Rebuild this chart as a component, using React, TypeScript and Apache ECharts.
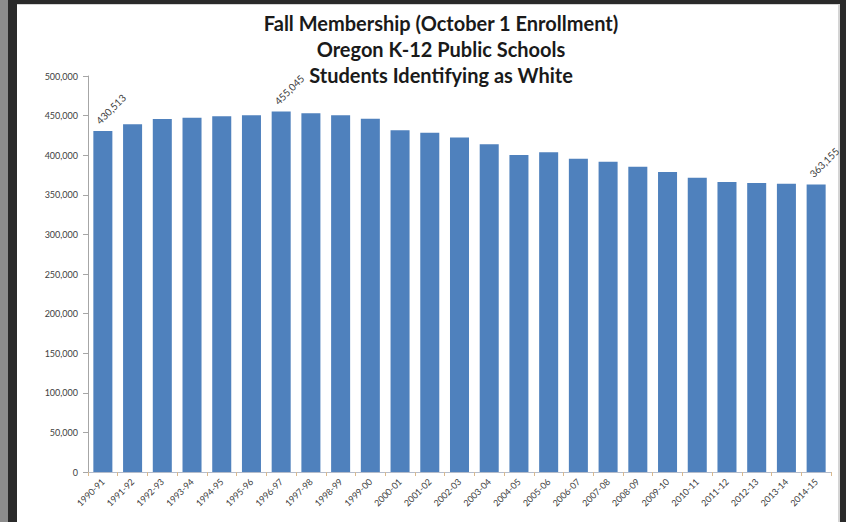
import React, { useEffect, useRef } from "react";
import * as echarts from "echarts";

const titleLines = [
  "Fall Membership (October 1 Enrollment)",
  "Oregon K-12 Public Schools",
  "Students Identifying as White",
];

const categories = [
  "1990-91", "1991-92", "1992-93", "1993-94", "1994-95", "1995-96", "1996-97",
  "1997-98", "1998-99", "1999-00", "2000-01", "2001-02", "2002-03", "2003-04",
  "2004-05", "2005-06", "2006-07", "2007-08", "2008-09", "2009-10", "2010-11",
  "2011-12", "2012-13", "2013-14", "2014-15",
];

const enrollment = [
  430513, 439000, 445700, 447300, 449100, 450300, 455045,
  452900, 450300, 446100, 431400, 428400, 422300, 413800,
  400300, 403600, 395600, 391800, 385500, 378800, 371600,
  366200, 364900, 364000, 363155,
];

const labeledIndices = [0, 6, 24];

const yMin = 0;
const yMax = 500000;
const yInterval = 50000;

const fmt = (v: number) => v.toLocaleString("en-US");

export default function App() {
  const ref = useRef<HTMLDivElement>(null);

  useEffect(() => {
    if (!ref.current) return;
    const chart = echarts.init(ref.current, null, { renderer: "svg" });
    const font = "Lato, 'Open Sans', sans-serif";
    chart.setOption({
      animation: false,
      backgroundColor: "transparent",
      textStyle: { fontFamily: font },
      graphic: titleLines.map((t, i) => ({
        type: "text",
        x: 441,
        y: 23 + i * 26,
        style: {
          text: t,
          fill: "#1a1a1a",
          font: `bold 20px ${font}`,
          textAlign: "center",
          textVerticalAlign: "middle",
        },
      })),
      grid: { left: 88, right: 15, top: 76, bottom: 50, containLabel: false },
      xAxis: {
        type: "category",
        data: categories,
        boundaryGap: true,
        axisLine: { show: true, lineStyle: { color: "#b4bccb", width: 1 } },
        axisTick: { show: true, length: 4, lineStyle: { color: "#d9b98e" } },
        axisLabel: {
          interval: 0,
          rotate: 45,
          fontSize: 9,
          color: "#404040",
          margin: 8,
          fontFamily: font,
        },
        splitLine: { show: false },
      },
      yAxis: {
        type: "value",
        min: yMin,
        max: yMax,
        interval: yInterval,
        axisLine: { show: true, lineStyle: { color: "#a6a6a6" } },
        axisTick: { show: true, length: 5, lineStyle: { color: "#a6a6a6" } },
        axisLabel: {
          fontSize: 9,
          color: "#404040",
          margin: 10,
          formatter: (v: number) => fmt(v),
          fontFamily: font,
        },
        splitLine: { show: false },
      },
      series: [
        {
          type: "bar",
          data: enrollment.map((v, i) => ({
            value: v,
            label: labeledIndices.includes(i)
              ? {
                  show: true,
                  position: "top",
                  rotate: 45,
                  align: "center",
                  verticalAlign: "middle",
                  distance: 22,
                  offset: [5.66, 5.66],
                  fontSize: 10,
                  color: "#404040",
                  fontFamily: font,
                  formatter: (p: any) => fmt(p.value),
                }
              : { show: false },
          })),
          barCategoryGap: "36%",
          itemStyle: { color: "#4F81BD" },
        },
      ],
    });
    return () => chart.dispose();
  }, []);

  return (
    <div
      style={{
        position: "fixed",
        left: 0,
        top: 0,
        width: 846,
        height: 522,
        background: "#2a2a2a",
        overflow: "hidden",
      }}
    >
      <div style={{ position: "absolute", left: 0, top: 0, width: 8, height: 522, background: "#8c8c8c" }} />
      <div style={{ position: "absolute", left: 17, top: 4, width: 823, height: 518, background: "#d4d4d4" }} />
      <div style={{ position: "absolute", left: 17, top: 5, width: 821, height: 517, background: "#ffffff" }} />
      <div ref={ref} style={{ position: "absolute", left: 0, top: 0, width: 846, height: 522 }} />
    </div>
  );
}
